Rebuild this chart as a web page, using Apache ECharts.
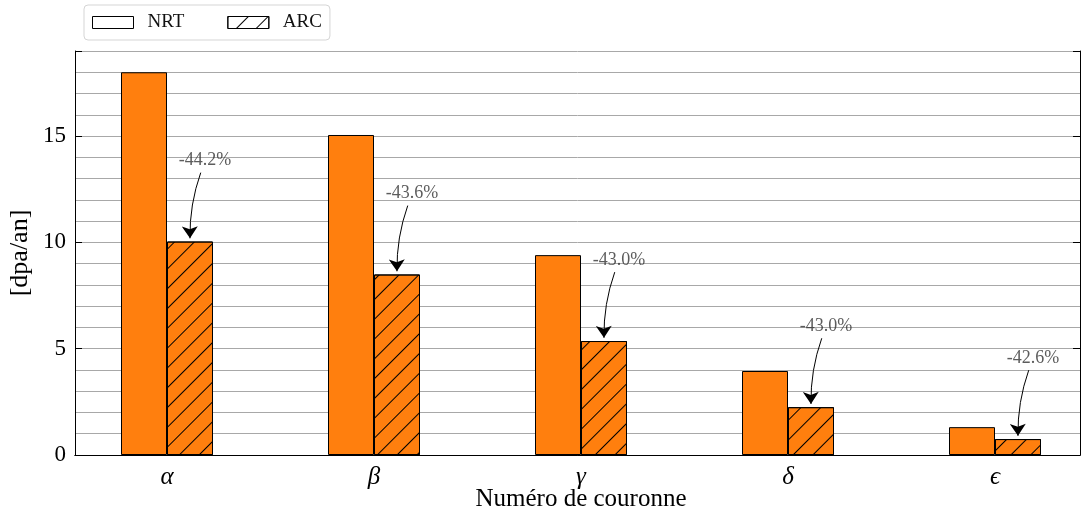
<!DOCTYPE html>
<html><head><meta charset="utf-8">
<script src="https://cdn.jsdelivr.net/npm/echarts@6/dist/echarts.min.js"></script>
<style>html,body{margin:0;padding:0;background:#fff}#c{width:1081px;height:515px}</style>
</head><body><div id="c"></div>
<script>
const categories = ['α', 'β', 'γ', 'δ', 'ϵ'];
const nrtValues = [18.0, 15.05, 9.40, 3.95, 1.31];
const arcValues = [10.04, 8.49, 5.36, 2.25, 0.75];
const reductionLabels = ['-44.2%', '-43.6%', '-43.0%', '-43.0%', '-42.6%'];
const yTickLabels = [0, 5, 10, 15];

const SERIF = '"Liberation Serif", "DejaVu Serif", serif';
const ORANGE = '#ff7f0e';
const hatch = { symbol: 'rect', color: '#000', backgroundColor: null, dashArrayX: [1, 0], dashArrayY: [1, 13], rotation: -Math.PI / 4, symbolSize: 1 };

const barOffset = 0.111, textOffset = 0.184, startOffset = 0.163;
const textPts = arcValues.map((v, i) => [i + textOffset, v + 3.82]);
const arrowLines = arcValues.map((v, i) => ({
  coords: [[i + startOffset, v + 3.82 - 0.58], [i + barOffset, v + 0.15]]
}));

const chart = echarts.init(document.getElementById('c'), null, { renderer: 'canvas' });
chart.setOption({
  animation: false,
  backgroundColor: '#fff',
  grid: [
    { left: 75, right: 1, top: 51, bottom: 60, show: false, outerBoundsMode: 'none', containLabel: false },
    { left: 63.5, width: 1035, top: 51, bottom: 60, show: false, outerBoundsMode: 'none', containLabel: false }
  ],
  legend: {
    left: 84, top: 5, padding: [8, 8, 8, 8],
    borderColor: '#d5d5d5', borderWidth: 1, borderRadius: 4,
    itemWidth: 41, itemHeight: 12, itemGap: 43,
    textStyle: { fontFamily: SERIF, fontSize: 19, color: '#111', padding: [0, 0, 0, 9] },
    data: [
      { name: 'NRT', icon: 'rect', itemStyle: { color: '#fff', borderColor: '#000', borderWidth: 1 } },
      { name: 'ARC', icon: 'rect', itemStyle: { color: '#fff', borderColor: '#000', borderWidth: 1, decal: hatch } }
    ]
  },
  xAxis: [
    { gridIndex: 0, type: 'value', min: 0, max: 1, position: 'bottom',
      axisLine: { show: true, onZero: false, lineStyle: { color: '#000', width: 1 } },
      axisTick: { show: false }, axisLabel: { show: false }, splitLine: { show: false } },
    { gridIndex: 0, type: 'value', min: 0, max: 1, position: 'top',
      axisLine: { show: true, lineStyle: { color: '#000', width: 1 } },
      axisTick: { show: false }, axisLabel: { show: false }, splitLine: { show: false } },
    { gridIndex: 1, type: 'category', data: categories, position: 'bottom',
      axisLine: { show: false }, axisTick: { show: false },
      axisLabel: { fontFamily: SERIF, fontStyle: 'italic', fontSize: 25, color: '#000', margin: 10 },
      name: 'Numéro de couronne', nameLocation: 'middle', nameGap: 32, nameMoveOverlap: false,
      nameTextStyle: { fontFamily: SERIF, fontSize: 25, color: '#000' } },
    { gridIndex: 1, type: 'value', min: -0.5, max: 4.5, show: false }
  ],
  yAxis: [
    { gridIndex: 0, type: 'value', min: 0, max: 19, interval: 1, position: 'left',
      axisLine: { show: true, lineStyle: { color: '#000', width: 1 } },
      axisTick: { show: false },
      axisLabel: { fontFamily: SERIF, fontSize: 23, color: '#000', margin: 9,
        formatter: v => (yTickLabels.indexOf(v) >= 0 ? String(v) : '') },
      splitLine: { show: true, lineStyle: { color: '#a8a8a8', width: 1 } },
      name: '[dpa/an]', nameLocation: 'middle', nameGap: 42, nameRotate: 90, nameMoveOverlap: false,
      nameTextStyle: { fontFamily: SERIF, fontSize: 26, color: '#000' } },
    { gridIndex: 0, type: 'value', min: 0, max: 19, interval: 5, position: 'left',
      axisLine: { show: false }, axisLabel: { show: false }, splitLine: { show: false },
      axisTick: { show: true, inside: true, length: 7, lineStyle: { color: '#000', width: 1 } } },
    { gridIndex: 0, type: 'value', min: 0, max: 19, interval: 5, position: 'right',
      axisLine: { show: true, lineStyle: { color: '#000', width: 1 } }, axisLabel: { show: false }, splitLine: { show: false },
      axisTick: { show: true, inside: true, length: 7, lineStyle: { color: '#000', width: 1 } } },
    { gridIndex: 1, type: 'value', min: 0, max: 19, show: false }
  ],
  series: [
    { name: 'NRT', type: 'bar', xAxisIndex: 2, yAxisIndex: 3, data: nrtValues,
      barWidth: 46, barGap: '0%',
      itemStyle: { color: ORANGE, borderColor: '#000', borderWidth: 1 } },
    { name: 'ARC', type: 'bar', xAxisIndex: 2, yAxisIndex: 3, data: arcValues,
      barWidth: 46, barGap: '0%',
      itemStyle: { color: ORANGE, borderColor: '#000', borderWidth: 1, decal: hatch } },
    { name: 'annot', type: 'scatter', xAxisIndex: 3, yAxisIndex: 3, data: textPts,
      symbolSize: 1, itemStyle: { color: 'rgba(0,0,0,0)' }, silent: true,
      label: { show: true, position: 'inside', fontFamily: SERIF, fontSize: 18, color: '#333',
        formatter: p => reductionLabels[p.dataIndex] } },
    { name: 'arrows', type: 'lines', coordinateSystem: 'cartesian2d', xAxisIndex: 3, yAxisIndex: 3,
      data: arrowLines, silent: true, symbol: ['none', 'arrow'], symbolSize: [9, 12],
      lineStyle: { color: '#000', width: 1, opacity: 1, curveness: -0.09 } }
  ]
});
</script></body></html>
